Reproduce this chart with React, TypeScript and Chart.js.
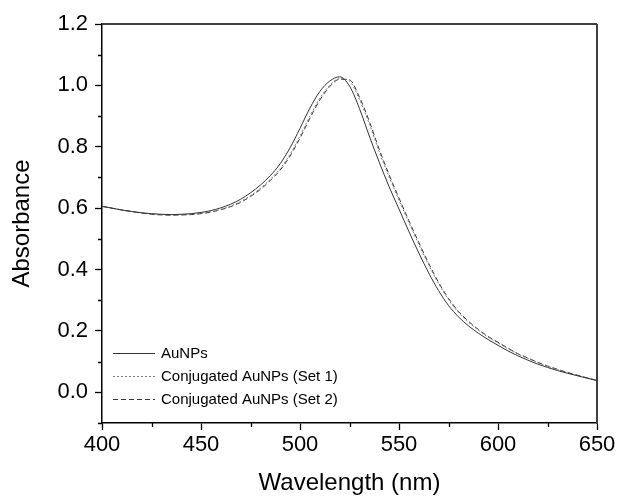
import React, { useEffect, useRef } from "react";
import { Chart, registerables } from "chart.js";

Chart.register(...registerables);

const wavelengths = [
  400, 405, 410, 415, 420, 425, 430, 435, 440, 445, 450, 455, 460, 465, 470, 475, 480, 485, 490, 495,
  500, 505, 510, 515, 520, 525, 530, 535, 540, 545, 550, 555, 560, 565, 570, 575, 580, 585, 590, 595,
  600, 605, 610, 615, 620, 625, 630, 635, 640, 645, 650,
];

const auNPs = [
  0.606, 0.600, 0.594, 0.589, 0.585, 0.582, 0.580, 0.579, 0.580, 0.582, 0.586, 0.592, 0.601, 0.613, 0.629, 0.650, 0.675, 0.706, 0.745, 0.797,
  0.860, 0.926, 0.980, 1.014, 1.028, 0.998, 0.925, 0.835, 0.750, 0.670, 0.597, 0.524, 0.454, 0.389, 0.331, 0.283, 0.246, 0.217, 0.193, 0.172,
  0.153, 0.135, 0.119, 0.105, 0.092, 0.081, 0.071, 0.062, 0.054, 0.046, 0.038,
];

const conjSet1 = [
  0.606, 0.600, 0.594, 0.589, 0.584, 0.581, 0.579, 0.578, 0.578, 0.580, 0.583, 0.588, 0.596, 0.607, 0.622, 0.641, 0.665, 0.694, 0.729, 0.776,
  0.835, 0.900, 0.958, 1.000, 1.022, 1.014, 0.954, 0.875, 0.784, 0.702, 0.626, 0.553, 0.482, 0.415, 0.354, 0.302, 0.261, 0.229, 0.203, 0.180,
  0.161, 0.142, 0.125, 0.111, 0.097, 0.085, 0.074, 0.064, 0.055, 0.047, 0.039,
];

const conjSet2 = [
  0.606, 0.600, 0.594, 0.589, 0.584, 0.580, 0.578, 0.577, 0.578, 0.579, 0.582, 0.587, 0.595, 0.605, 0.619, 0.638, 0.661, 0.690, 0.724, 0.770,
  0.828, 0.893, 0.952, 0.996, 1.020, 1.018, 0.962, 0.883, 0.792, 0.709, 0.633, 0.559, 0.488, 0.420, 0.358, 0.306, 0.264, 0.232, 0.205, 0.182,
  0.163, 0.144, 0.126, 0.112, 0.098, 0.086, 0.075, 0.065, 0.056, 0.047, 0.039,
];

const seriesLabels = ["AuNPs", "Conjugated AuNPs (Set 1)", "Conjugated AuNPs (Set 2)"];

const xMajorTicks = [400, 450, 500, 550, 600, 650];
const xMinorTicks = [425, 475, 525, 575, 625];
const yMajorTicks = [0, 0.2, 0.4, 0.6, 0.8, 1.0, 1.2];
const yMinorTicks = [-0.1, 0.1, 0.3, 0.5, 0.7, 0.9, 1.1];

const FONT = "'Liberation Sans', Arial, Helvetica, sans-serif";

const toPoints = (ys: number[]) => wavelengths.map((x, i) => ({ x, y: ys[i] }));

const framePlugin = {
  id: "framePlugin",
  afterDraw(chart: any) {
    const { ctx, chartArea } = chart;
    const { left, right, top, bottom } = chartArea;
    const xs = chart.scales.x;
    const ys = chart.scales.y;
    ctx.save();
    // top and right frame
    ctx.strokeStyle = "#404040";
    ctx.lineWidth = 2;
    ctx.beginPath();
    ctx.moveTo(left, top);
    ctx.lineTo(right, top);
    ctx.moveTo(right, top);
    ctx.lineTo(right, bottom + 1);
    ctx.stroke();
    // minor ticks
    ctx.strokeStyle = "#000";
    ctx.lineWidth = 1.3;
    ctx.beginPath();
    xMinorTicks.forEach((v) => {
      const px = Math.round(xs.getPixelForValue(v)) + 0.5;
      ctx.moveTo(px, bottom);
      ctx.lineTo(px, bottom + 4);
    });
    yMinorTicks.forEach((v) => {
      const py = Math.round(ys.getPixelForValue(v)) + 0.5;
      ctx.moveTo(left, py);
      ctx.lineTo(left - 4, py);
    });
    ctx.stroke();
    // legend
    const rows = [bottom - 70, bottom - 47, bottom - 24];
    ctx.font = `15px ${FONT}`;
    ctx.textBaseline = "middle";
    ctx.textAlign = "left";
    chart.data.datasets.forEach((ds: any, i: number) => {
      const y = rows[i];
      ctx.save();
      ctx.strokeStyle = ds.borderColor;
      ctx.lineWidth = ds.borderWidth;
      ctx.setLineDash(ds.borderDash || []);
      ctx.beginPath();
      ctx.moveTo(left + 11, y + 0.5);
      ctx.lineTo(left + 53, y + 0.5);
      ctx.stroke();
      ctx.restore();
      ctx.fillStyle = "#000";
      ctx.fillText(ds.label, left + 59, y + 1);
    });
    ctx.restore();
  },
};

export default function App() {
  const ref = useRef<HTMLCanvasElement | null>(null);

  useEffect(() => {
    if (!ref.current) return;
    const chart = new Chart(ref.current, {
      type: "line",
      data: {
        datasets: [
          {
            label: seriesLabels[0],
            data: toPoints(auNPs),
            borderColor: "#333333",
            borderWidth: 1,
            borderDash: [],
            pointRadius: 0,
            cubicInterpolationMode: "monotone",
          },
          {
            label: seriesLabels[1],
            data: toPoints(conjSet1),
            borderColor: "#7a7a7a",
            borderWidth: 1,
            borderDash: [2, 2],
            pointRadius: 0,
            cubicInterpolationMode: "monotone",
          },
          {
            label: seriesLabels[2],
            data: toPoints(conjSet2),
            borderColor: "#333333",
            borderWidth: 1,
            borderDash: [5, 3],
            pointRadius: 0,
            cubicInterpolationMode: "monotone",
          },
        ],
      },
      options: {
        animation: false,
        responsive: false,
        maintainAspectRatio: false,
        layout: { padding: { top: 24, right: 21, left: 0, bottom: 0 } },
        plugins: { legend: { display: false }, tooltip: { enabled: false } },
        scales: {
          x: {
            type: "linear",
            min: 400,
            max: 650,
            afterBuildTicks: (s: any) => {
              s.ticks = xMajorTicks.map((v) => ({ value: v }));
            },
            afterFit: (s: any) => {
              s.height = 75;
            },
            ticks: {
              font: { size: 22, family: FONT },
              color: "#000",
              padding: 2,
              maxRotation: 0,
              autoSkip: false,
            },
            grid: {
              drawOnChartArea: false,
              drawTicks: true,
              tickLength: 7,
              tickColor: "#000",
              tickWidth: 1.3,
            },
            border: { color: "#000", width: 1.5 },
            title: {
              display: true,
              text: "Wavelength (nm)",
              font: { size: 24, family: FONT },
              color: "#000",
              padding: { top: 0, bottom: 0 },
            },
          },
          y: {
            type: "linear",
            min: -0.1,
            max: 1.2,
            afterBuildTicks: (s: any) => {
              s.ticks = yMajorTicks.map((v) => ({ value: v }));
            },
            afterFit: (s: any) => {
              s.width = 102;
            },
            ticks: {
              font: { size: 22, family: FONT },
              color: "#000",
              padding: 7,
              autoSkip: false,
              callback: (v: any) => Number(v).toFixed(1),
            },
            grid: {
              drawOnChartArea: false,
              drawTicks: true,
              tickLength: 7,
              tickColor: "#000",
              tickWidth: 1.3,
            },
            border: { color: "#000", width: 1.5 },
            title: {
              display: true,
              text: "Absorbance",
              font: { size: 24, family: FONT },
              color: "#000",
              padding: { top: 8, bottom: 0 },
            },
          },
        },
      },
      plugins: [framePlugin],
    } as any);
    return () => chart.destroy();
  }, []);

  return (
    <div style={{ position: "absolute", left: 0, top: 0, width: 618, height: 498, background: "#fff" }}>
      <canvas ref={ref} width={618} height={498} />
    </div>
  );
}
